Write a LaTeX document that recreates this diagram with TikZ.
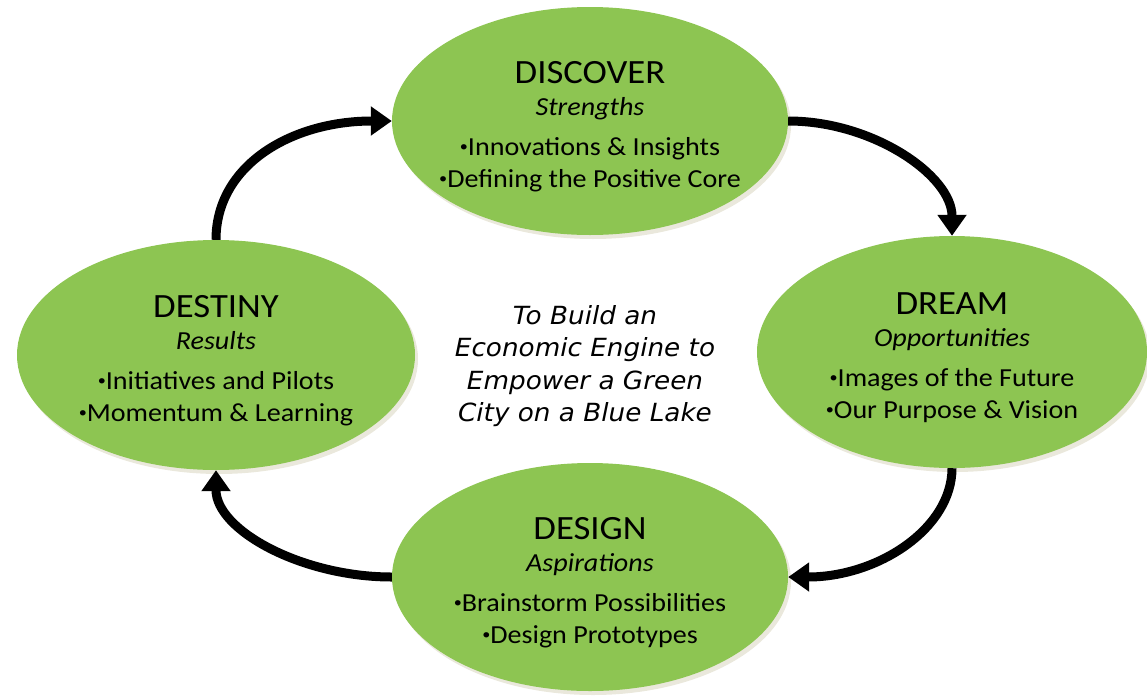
\documentclass[tikz,border=0pt]{standalone}
\usepackage{fontspec}
\setmainfont{Carlito}[FakeStretch=1.08]
\newfontfamily\goalfont{DejaVu Sans}[FakeStretch=1.05]
\usetikzlibrary{arrows.meta,shapes.geometric}
\definecolor{leaf}{RGB}{141,197,82}
\definecolor{shade}{RGB}{234,232,220}
\newcommand\dotmark{{\fontsize{15}{15}\selectfont\raisebox{3.5pt}{•}}}
\tikzset{
  phase/.style={ellipse, fill=leaf, draw=none, inner sep=0pt},
  phaseshadow/.style={ellipse, fill=shade, draw=none, inner sep=0pt},
  phasetitle/.style={anchor=base, inner sep=0pt, font=\fontsize{34}{40}\selectfont},
  phasesub/.style={anchor=base, inner sep=0pt, font=\itshape\fontsize{26}{30}\selectfont},
  phaseitem/.style={anchor=base, inner sep=0pt, font=\fontsize{26}{30}\selectfont},
  goaltext/.style={align=center, inner sep=0pt, font=\goalfont\itshape\fontsize{25}{32.5}\selectfont},
  flow/.style={line width=9pt, draw=black, -{Triangle[length=21pt,width=28pt]}}
}
\newcommand\phasenode[9]{%
  \node[phaseshadow, minimum width=#4pt, minimum height=#5pt] (#1-shadow) at (#2+3,#3+4) {};
  \node[phase, minimum width=#4pt, minimum height=#5pt] (#1) at (#2,#3) {};
  \node[phasetitle] (#1-title) at ([shift={(0,-38)}]#1.center) {#6};
  \node[phasesub] (#1-sub) at ([shift={(0,-6)}]#1.center) {#7};
  \node[phaseitem] (#1-a) at ([shift={(0,34)}]#1.center) {\dotmark#8};
  \node[phaseitem] (#1-b) at ([shift={(0,66)}]#1.center) {\dotmark#9};
}
\begin{document}
\begin{tikzpicture}[x=1pt, y=-1pt]
\useasboundingbox (0,0) rectangle (1147,699);
\phasenode{discover}{590}{121}{396}{228}{DISCOVER}{Strengths}{Innovations \& Insights}{Defining the Positive Core}
\phasenode{dream}{952}{352}{390}{232}{DREAM}{Opportunities}{Images of the Future}{Our Purpose \& Vision}
\phasenode{design}{590}{577}{396}{228}{DESIGN}{Aspirations}{Brainstorm Possibilities}{Design Prototypes}
\phasenode{destiny}{216}{355}{398}{230}{DESTINY}{Results}{Initiatives and Pilots}{Momentum \& Learning}
\node[goaltext] (goal) at (585,366) {To Build an\\Economic Engine to\\Empower a Green\\City on a Blue Lake};
\draw[flow] (destiny.north) .. controls +(0,-75) and +(-100,0) .. (discover.west);
\draw[flow] (discover.east) .. controls +(85,0) and +(0,-60) .. (dream.north);
\draw[flow] (dream.south) .. controls +(0,60) and +(90,0) .. (design.east);
\draw[flow] (design.west) .. controls +(-90,0) and +(0,60) .. (destiny.south);
\end{tikzpicture}
\end{document}
